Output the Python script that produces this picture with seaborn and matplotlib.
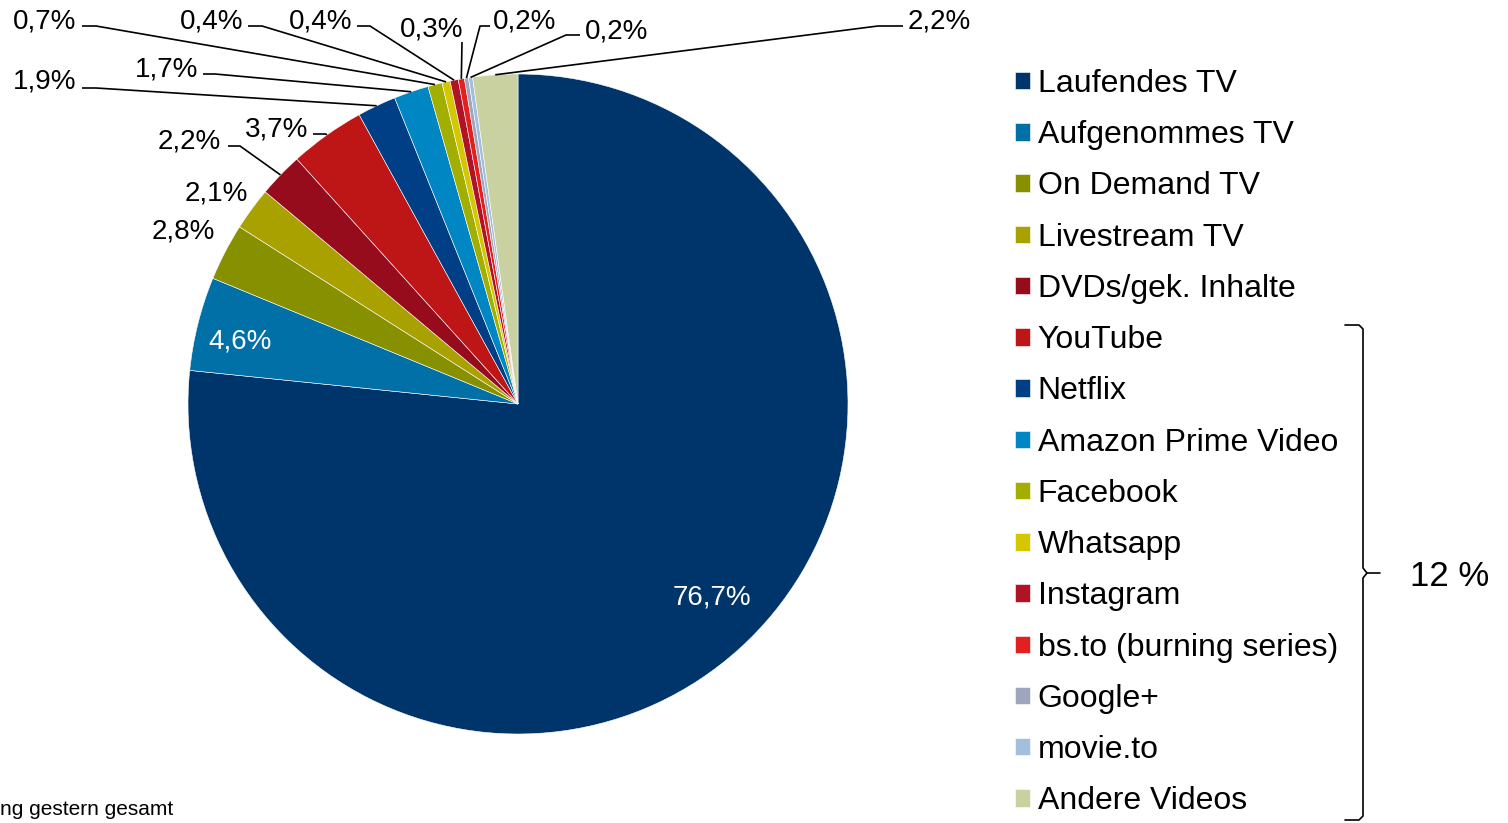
import numpy as np
import matplotlib
matplotlib.use("Agg")
import matplotlib.pyplot as plt
import seaborn as sns

# --- data ---
categories = ["Laufendes TV", "Aufgenommes TV", "On Demand TV", "Livestream TV",
              "DVDs/gek. Inhalte", "YouTube", "Netflix", "Amazon Prime Video",
              "Facebook", "Whatsapp", "Instagram", "bs.to (burning series)",
              "Google+", "movie.to", "Andere Videos"]
shares = [76.7, 4.6, 2.8, 2.1, 2.2, 3.7, 1.9, 1.7, 0.7, 0.4, 0.4, 0.3, 0.2, 0.2, 2.2]
hex_colors = ["#00356B", "#0070A6", "#879100", "#A9A100", "#960C1C", "#BE1617",
              "#003F85", "#0086C2", "#A2AF00", "#D4C600", "#B01226", "#E32020",
              "#9FA5BC", "#A3BFDF", "#C9D1A0"]
group_label = "12 %"
footer = "ng gestern gesamt"

# --- layout (pixels, y from top) ---
W, H = 1508, 823
# label left x, baseline y, leader elbow points (None = no leader), text colour
label_layout = [
    (673, 604, None, "white"),
    (208, 348, None, "white"),
    (152, 238, None, "black"),
    (185, 200, None, "black"),
    (158, 148, [(228, 146), (240, 146)], "black"),
    (245, 136, [(313, 134), (326, 134)], "black"),
    (13, 88, [(82, 88), (96, 88)], "black"),
    (135, 76, [(203, 74), (215, 74)], "black"),
    (13, 28, [(82, 26), (96, 26)], "black"),
    (180, 28, [(248, 26), (262, 26)], "black"),
    (289, 28, [(357, 26), (370, 26)], "black"),
    (400, 36, [(462, 42)], "black"),
    (493, 28, [(490, 26), (480, 26)], "black"),
    (585, 38, [(580, 35), (566, 35)], "black"),
    (908, 28, [(903, 26), (878, 26)], "black"),
]


def px(x, y):
    return x, H - y


sns.set_theme(style="white")
plt.rcParams["font.family"] = ["Liberation Sans", "DejaVu Sans"]
plt.rcParams["text.color"] = "black"
palette = sns.color_palette(hex_colors)

fig = plt.figure(figsize=(W / 100, H / 100), dpi=100)
ax = fig.add_axes([0, 0, 1, 1])

wedges, _ = ax.pie(shares, colors=palette, startangle=90, counterclock=False,
                   center=px(518, 404), radius=330,
                   wedgeprops=dict(linewidth=0.4, edgecolor="white"))
ax.set_xlim(0, W)
ax.set_ylim(0, H)
ax.set_aspect("auto")
ax.axis("off")

# percentage labels + leader lines
for w, v, (tx, ty, elbow, col) in zip(wedges, shares, label_layout):
    txt = f"{v:.1f}".replace(".", ",") + "%"
    ax.text(*px(tx, ty), txt, ha="left", va="baseline", fontsize=20, color=col)
    if elbow:
        mid = np.deg2rad((w.theta1 + w.theta2) / 2)
        cx, cy = w.center
        anchor = (cx + w.r * np.cos(mid), cy + w.r * np.sin(mid))
        pts = [px(*p) for p in elbow] + [anchor]
        xs, ys = zip(*pts)
        ax.plot(xs, ys, color="black", lw=1.2, solid_capstyle="butt")

# legend
leg = ax.legend(wedges, categories, loc="upper left",
                bbox_to_anchor=(1015 / W, 1 - 69 / H), bbox_transform=fig.transFigure,
                frameon=False, fontsize=23, borderpad=0, borderaxespad=0,
                handlelength=0.46, handleheight=0.46, handletextpad=0.25,
                labelspacing=0.665)
for t in leg.get_texts():
    t.set_color("black")

# brace for the online group
brace_top = [(1345, 325), (1359, 325), (1363, 329), (1363, 568), (1367, 573), (1380, 573)]
brace_bot = [(1367, 573), (1363, 578), (1363, 816), (1359, 820), (1345, 820)]
for seg in (brace_top, brace_bot):
    xs, ys = zip(*[px(*p) for p in seg])
    ax.plot(xs, ys, color="black", lw=1.2)
ax.text(*px(1410, 586), group_label, ha="left", va="baseline", fontsize=25)

ax.text(*px(0, 815), footer, ha="left", va="baseline", fontsize=15)

fig.savefig("out.png", dpi=100)
